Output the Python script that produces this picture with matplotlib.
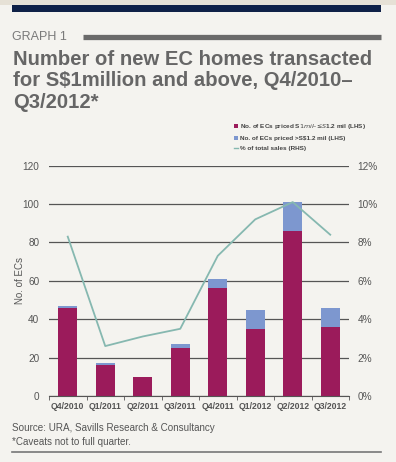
# EC homes transacted for S$1 million and above, Q4/2010 - Q3/2012

import matplotlib.pyplot as plt
from matplotlib.patches import Rectangle
from matplotlib.lines import Line2D
import numpy as np

plt.rcParams['font.family'] = ['Liberation Sans', 'DejaVu Sans']

# data
quarters = ['Q4/2010', 'Q1/2011', 'Q2/2011', 'Q3/2011',
            'Q4/2011', 'Q1/2012', 'Q2/2012', 'Q3/2012']
priced_1_to_12 = [46, 16, 10, 25, 56, 35, 86, 36]
priced_above_12 = [1, 1, 0, 2, 5, 10, 15, 10]
pct_total_sales = [8.3, 2.6, 3.1, 3.5, 7.3, 9.2, 10.1, 8.4]

left_ticks = [0, 20, 40, 60, 80, 100, 120]
right_ticks = [0, 2, 4, 6, 8, 10, 12]

maroon = '#9b1b5b'
blue = '#7d97cf'
teal = '#86b8b0'
bg = '#f4f3ef'

fig = plt.figure(figsize=(3.96, 4.62), dpi=100, facecolor=bg)

# header bands
fig.patches.append(Rectangle((0, 1 - 5 / 462), 1, 5 / 462, transform=fig.transFigure,
                             facecolor='#e6e1d6', edgecolor='none'))
fig.patches.append(Rectangle((12 / 396, 1 - 12 / 462), 369 / 396, 7 / 462,
                             transform=fig.transFigure, facecolor='#0f2147', edgecolor='none'))

fig.text(12 / 396, 1 - 37 / 462, 'GRAPH 1', fontsize=9, color='#7a7a7a', va='center')
fig.add_artist(Line2D([83 / 396, 381 / 396], [1 - 36.5 / 462, 1 - 36.5 / 462],
                      color='#6a6a6a', lw=3.8, solid_capstyle='butt', transform=fig.transFigure))
title_lines = ['Number of new EC homes transacted',
               'for S$1million and above, Q4/2010–',
               'Q3/2012*']
for i, line in enumerate(title_lines):
    fig.text(13 / 396, 1 - (65 + 21.5 * i) / 462, line, fontsize=14.6, fontweight='bold',
             color='#666666', va='baseline')

ax = fig.add_axes([49 / 396, 1 - 396 / 462, 300 / 396, 230.4 / 462])
ax.set_facecolor(bg)
x = np.arange(len(quarters))

for y in left_ticks:
    ax.axhline(y, color='#555555', lw=0.9, zorder=1)

ax.bar(x, priced_1_to_12, width=0.5, color=maroon, zorder=2)
ax.bar(x, priced_above_12, width=0.5, bottom=priced_1_to_12, color=blue, zorder=2)

ax.set_xlim(-0.5, len(quarters) - 0.5)
ax.set_ylim(0, 120)
ax.set_yticks(left_ticks)
ax.set_xticks(x)
ax.set_xticklabels(quarters, fontsize=6.2, fontweight='bold', color='#555555')
ax.set_xticks(np.arange(-0.5, len(quarters)), minor=True)
ax.tick_params(axis='x', which='major', length=0, pad=4)
ax.tick_params(axis='x', which='minor', length=3, direction='out', color='#555555')
ax.tick_params(axis='y', length=0, labelsize=7.2, labelcolor='#555555', pad=7)
for s in ['top', 'right', 'left']:
    ax.spines[s].set_visible(False)
ax.spines['bottom'].set_color('#555555')
ax.set_ylabel('No. of ECs', fontsize=7, color='#555555')
ax.yaxis.set_label_coords(-24 / 300, 0.5)

ax2 = ax.twinx()
ax2.plot(x, pct_total_sales, color=teal, lw=1.3, zorder=3)
ax2.set_ylim(0, 12)
ax2.set_yticks(right_ticks)
ax2.set_yticklabels([f'{t}%' for t in right_ticks])
ax2.tick_params(axis='y', length=0, labelsize=7.2, labelcolor='#555555', pad=6)
for s in ['top', 'right', 'left', 'bottom']:
    ax2.spines[s].set_visible(False)

# legend
handles = [Rectangle((0, 0), 1, 1, facecolor=maroon),
           Rectangle((0, 0), 1, 1, facecolor=blue),
           Line2D([0], [0], color=teal, lw=1)]
labels = ['No. of ECs priced S$1 mil– ≤S$1.2 mil (LHS)',
          'No. of ECs priced >S$1.2 mil (LHS)',
          '% of total sales (RHS)']
leg = fig.legend(handles, labels, loc='upper left', bbox_to_anchor=(234 / 396, 1 - 122 / 462),
                 frameon=False, fontsize=4.6, handlelength=0.6, handleheight=0.6,
                 handletextpad=0.3, labelspacing=0.75, borderpad=0, borderaxespad=0)
for t in leg.get_texts():
    t.set_fontweight('bold')
    t.set_color('#444444')

fig.text(12 / 396, 1 - 428 / 462, 'Source: URA, Savills Research & Consultancy',
         fontsize=7.1, color='#555555', va='center')
fig.text(12 / 396, 1 - 442 / 462, '*Caveats not to full quarter.',
         fontsize=7.1, color='#555555', va='center')
fig.add_artist(Line2D([12 / 396, 381 / 396], [1 - 452 / 462, 1 - 452 / 462],
                      color='#777777', lw=1.2, transform=fig.transFigure))

fig.savefig('out.png', dpi=100, facecolor=bg)
